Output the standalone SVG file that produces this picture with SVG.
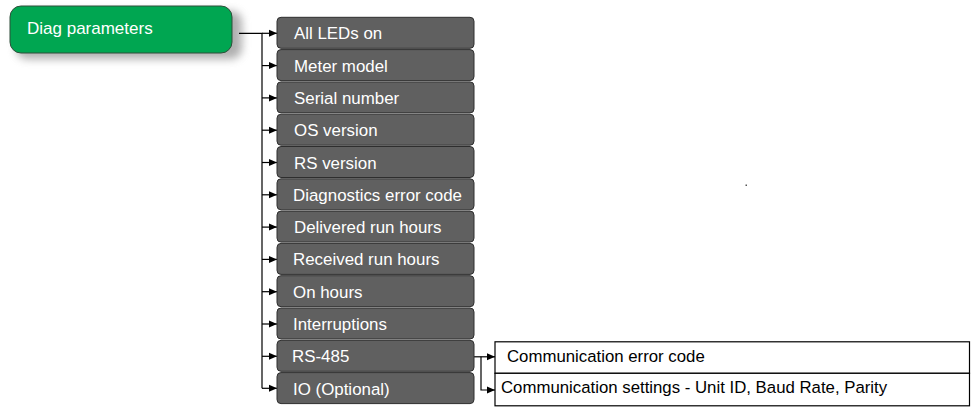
<svg xmlns="http://www.w3.org/2000/svg" width="971" height="407" viewBox="0 0 971 407">
<style>
.g rect{fill:#606060;stroke:#2e2e2e;stroke-width:1}
.g text{font-family:"Liberation Sans",Arial,sans-serif;font-size:16.9px;fill:#ffffff}
.w rect{fill:#ffffff;stroke:#000000;stroke-width:1.2}
.w text{font-family:"Liberation Sans",Arial,sans-serif;font-size:16.8px;fill:#000000}
.c{fill:none;stroke:#000000;stroke-width:1.2}
</style>
<defs>
<marker id="ah" markerWidth="8" markerHeight="8" refX="8" refY="4" orient="auto" markerUnits="userSpaceOnUse">
<path d="M0,0.5 L8,4 L0,7.5 Z" fill="#000"/>
</marker>
<filter id="sh" x="-10%" y="-20%" width="130%" height="160%">
<feGaussianBlur stdDeviation="4"/>
</filter>
</defs>
<g id="diag-parameters">
<rect x="16" y="11" width="226" height="48" rx="11" fill="#7a7a7a" opacity="0.6" filter="url(#sh)"/>
<rect x="10" y="6" width="222" height="47" rx="11" fill="#00a651" stroke="#2f4f3a" stroke-width="1"/>
<text x="27" y="33.5" style="font-family:'Liberation Sans',Arial,sans-serif;font-size:17px;fill:#ffffff">Diag parameters</text>
</g>
<g id="connectors">
<path class="c" d="M239,33.3 H262 V388.3"/>
<path class="c" d="M262,388.3 H277" marker-end="url(#ah)"/>
<path class="c" d="M262,33.3 H277" marker-end="url(#ah)"/>
<path class="c" d="M262,65.6 H277" marker-end="url(#ah)"/>
<path class="c" d="M262,97.9 H277" marker-end="url(#ah)"/>
<path class="c" d="M262,130.2 H277" marker-end="url(#ah)"/>
<path class="c" d="M262,162.5 H277" marker-end="url(#ah)"/>
<path class="c" d="M262,194.8 H277" marker-end="url(#ah)"/>
<path class="c" d="M262,227.1 H277" marker-end="url(#ah)"/>
<path class="c" d="M262,259.4 H277" marker-end="url(#ah)"/>
<path class="c" d="M262,291.7 H277" marker-end="url(#ah)"/>
<path class="c" d="M262,324 H277" marker-end="url(#ah)"/>
<path class="c" d="M262,356.3 H277" marker-end="url(#ah)"/>
<path class="c" d="M474,356.8 H495" marker-end="url(#ah)"/>
<path class="c" d="M481,356.8 V390 H495" marker-end="url(#ah)"/>
</g>
<g id="all-leds-on" class="g"><rect x="277" y="17.3" width="197" height="31" rx="4"/><text x="294" y="39.3">All LEDs on</text></g>
<g id="meter-model" class="g"><rect x="277" y="49.6" width="197" height="31" rx="4"/><text x="294" y="71.6">Meter model</text></g>
<g id="serial-number" class="g"><rect x="277" y="81.9" width="197" height="31" rx="4"/><text x="294" y="103.9">Serial number</text></g>
<g id="os-version" class="g"><rect x="277" y="114.2" width="197" height="31" rx="4"/><text x="294" y="136.2">OS version</text></g>
<g id="rs-version" class="g"><rect x="277" y="146.5" width="197" height="31" rx="4"/><text x="294" y="168.5">RS version</text></g>
<g id="diagnostics-error-code" class="g"><rect x="277" y="178.8" width="197" height="31" rx="4"/><text x="293" y="200.8">Diagnostics error code</text></g>
<g id="delivered-run-hours" class="g"><rect x="277" y="211.1" width="197" height="31" rx="4"/><text x="294" y="233.1">Delivered run hours</text></g>
<g id="received-run-hours" class="g"><rect x="277" y="243.4" width="197" height="31" rx="4"/><text x="293" y="265.4">Received run hours</text></g>
<g id="on-hours" class="g"><rect x="277" y="275.7" width="197" height="31" rx="4"/><text x="293" y="297.7">On hours</text></g>
<g id="interruptions" class="g"><rect x="277" y="308" width="197" height="31" rx="4"/><text x="293" y="330">Interruptions</text></g>
<g id="rs-485" class="g"><rect x="277" y="340.3" width="197" height="31" rx="4"/><text x="292" y="362.3">RS-485</text></g>
<g id="io-optional" class="g"><rect x="277" y="372.6" width="197" height="31" rx="4"/><text x="293" y="394.6">IO (Optional)</text></g>
<g id="communication-error-code" class="w"><rect x="495" y="341.8" width="474.5" height="31.5"/><text x="507" y="362">Communication error code</text></g>
<g id="communication-settings" class="w"><rect x="495" y="373.3" width="474.5" height="32.5"/><text x="501" y="393">Communication settings - Unit ID, Baud Rate, Parity</text></g>
<rect x="745.5" y="184.5" width="1.5" height="1.5" fill="#555"/>
</svg>
